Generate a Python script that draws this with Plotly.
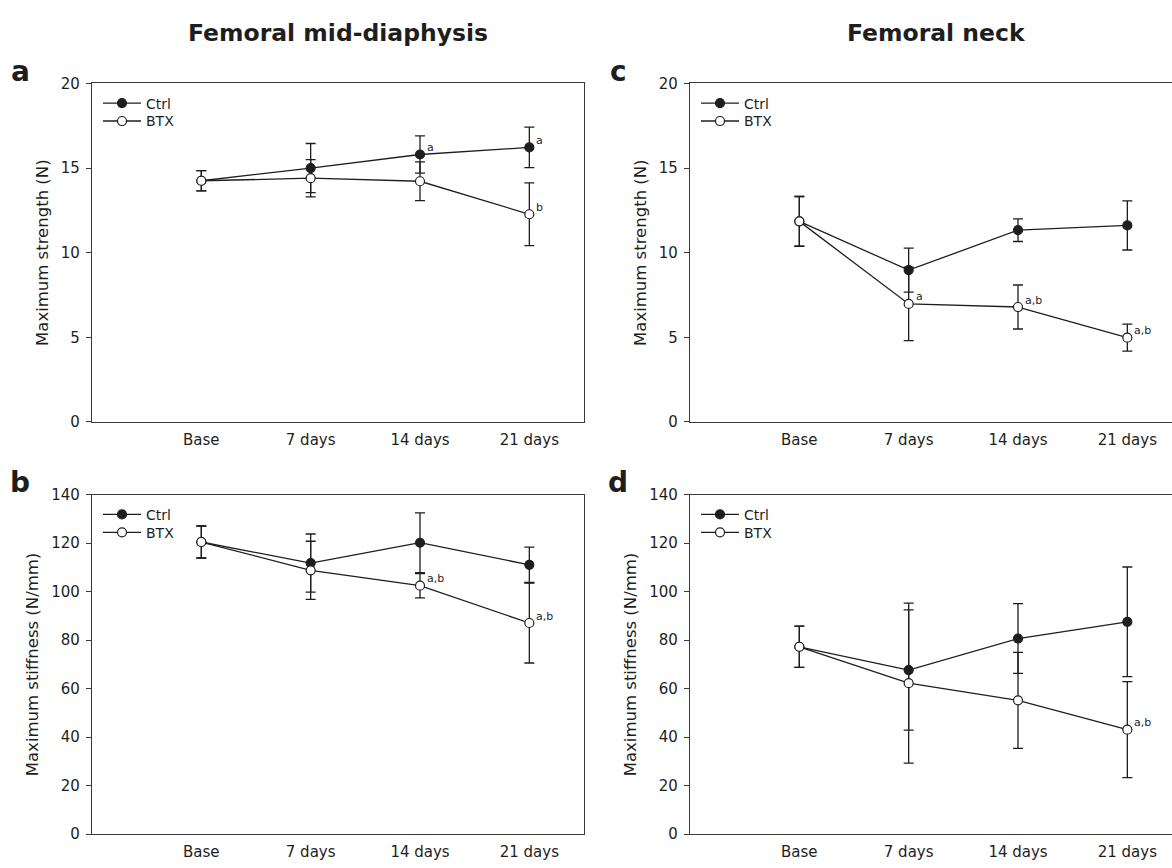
import plotly.graph_objects as go

W, H = 1172, 868
FONT = "DejaVu Sans"
INK = "#1e1e1e"
AX = "#3a3a3a"

categories = ["Base", "7 days", "14 days", "21 days"]
xpos = [0, 1, 2, 3]
series_names = ["Ctrl", "BTX"]

# Panel a: Femoral mid-diaphysis, maximum strength (N)
a_ctrl = [14.25, 15.0, 15.8, 16.22]
a_ctrl_err = [0.6, 1.45, 1.1, 1.2]
a_btx = [14.25, 14.4, 14.22, 12.27]
a_btx_err = [0.6, 1.1, 1.15, 1.85]
a_ctrl_sig = ["", "", "a", "a"]
a_btx_sig = ["", "", "", "b"]

# Panel b: Femoral mid-diaphysis, maximum stiffness (N/mm)
b_ctrl = [120.5, 111.8, 120.2, 111.1]
b_ctrl_err = [6.6, 12.0, 12.3, 7.3]
b_btx = [120.5, 108.8, 102.5, 87.1]
b_btx_err = [6.6, 12.0, 5.0, 16.5]
b_ctrl_sig = ["", "", "", ""]
b_btx_sig = ["", "", "a,b", "a,b"]

# Panel c: Femoral neck, maximum strength (N)
c_ctrl = [11.85, 8.97, 11.33, 11.61]
c_ctrl_err = [1.47, 1.3, 0.67, 1.45]
c_btx = [11.85, 6.97, 6.79, 4.98]
c_btx_err = [1.47, 2.17, 1.3, 0.8]
c_ctrl_sig = ["", "", "", ""]
c_btx_sig = ["", "a", "a,b", "a,b"]

# Panel d: Femoral neck, maximum stiffness (N/mm)
d_ctrl = [77.3, 67.7, 80.7, 87.6]
d_ctrl_err = [8.5, 24.8, 14.4, 22.6]
d_btx = [77.3, 62.3, 55.2, 43.1]
d_btx_err = [8.5, 33.0, 19.8, 19.8]
d_ctrl_sig = ["", "", "", ""]
d_btx_sig = ["", "", "", "a,b"]

strength_ticks = [0, 5, 10, 15, 20]
stiffness_ticks = [0, 20, 40, 60, 80, 100, 120, 140]

col_titles = ["Femoral mid-diaphysis", "Femoral neck"]

px_per_unit = 492 / 4.5
left_px = {"L": 92, "R": 690}
right_px = {"L": 584, "R": W}
row_px = {"top": (76, 421.7), "bot": (496, 842.7)}

panels = [
    dict(letter="a", n="", col="L", row="top", ctrl=a_ctrl, ce=a_ctrl_err, btx=a_btx, be=a_btx_err,
         cs=a_ctrl_sig, bs=a_btx_sig, yr=[0, 20], tv=strength_ticks, yt="Maximum strength (N)"),
    dict(letter="b", n="3", col="L", row="bot", ctrl=b_ctrl, ce=b_ctrl_err, btx=b_btx, be=b_btx_err,
         cs=b_ctrl_sig, bs=b_btx_sig, yr=[0, 140], tv=stiffness_ticks, yt="Maximum stiffness (N/mm)"),
    dict(letter="c", n="2", col="R", row="top", ctrl=c_ctrl, ce=c_ctrl_err, btx=c_btx, be=c_btx_err,
         cs=c_ctrl_sig, bs=c_btx_sig, yr=[0, 20], tv=strength_ticks, yt="Maximum strength (N)"),
    dict(letter="d", n="4", col="R", row="bot", ctrl=d_ctrl, ce=d_ctrl_err, btx=d_btx, be=d_btx_err,
         cs=d_ctrl_sig, bs=d_btx_sig, yr=[0, 140], tv=stiffness_ticks, yt="Maximum stiffness (N/mm)"),
]

fig = go.Figure()
annotations = []
leg_count = 0

for p in panels:
    n = p["n"]
    xref, yref = "x" + n, "y" + n
    x0 = left_px[p["col"]]
    x1 = right_px[p["col"]]
    ytop, ybot = row_px[p["row"]]
    series = [(p["ctrl"], p["ce"], True), (p["btx"], p["be"], False)]
    for j, (name, (vals, errs, filled)) in enumerate(zip(series_names, series)):
        leg_count += 1
        leg_id = "legend" if leg_count == 1 else f"legend{leg_count}"
        fig.add_trace(go.Scatter(
            x=xpos, y=vals, name=name, mode="lines+markers",
            xaxis=xref, yaxis=yref, legend=leg_id,
            line=dict(color=INK, width=1.3),
            marker=dict(symbol="circle", size=9, color=INK if filled else "white",
                        line=dict(color=INK, width=1.2)),
            error_y=dict(type="data", array=errs, visible=True, color=INK, thickness=1.3, width=5),
        ))
        fig.layout[leg_id] = dict(
            x=(x0 + 6) / W, y=1 - (ytop + 20.5 + 18.3 * j) / H, xanchor="left", yanchor="middle",
            bgcolor="rgba(0,0,0,0)", font=dict(family=FONT, size=14, color=INK),
            itemwidth=38, itemclick=False, itemdoubleclick=False)
    for vals, sigs in [(p["ctrl"], p["cs"]), (p["btx"], p["bs"])]:
        for xi, v, s in zip(xpos, vals, sigs):
            if s:
                annotations.append(dict(x=xi, y=v, xref=xref, yref=yref, text=s, showarrow=False,
                                        xanchor="left", yanchor="middle", xshift=5, yshift=7,
                                        font=dict(family=FONT, size=11, color=INK)))
    xrange = [-1, -1 + (x1 - x0) / px_per_unit]
    ax_common = dict(showline=True, linecolor=AX, linewidth=1.2, showgrid=False, zeroline=False)
    fig.layout["xaxis" + n] = dict(
        domain=[x0 / W, x1 / W], anchor=yref, range=xrange, tickvals=xpos, ticktext=categories,
        ticks="", mirror=True, tickfont=dict(family=FONT, size=15, color=INK), ticklabelstandoff=4,
        fixedrange=True, **ax_common)
    fig.layout["yaxis" + n] = dict(
        domain=[1 - ybot / H, 1 - ytop / H], anchor=xref, range=p["yr"], tickvals=p["tv"],
        ticks="outside", ticklen=5, tickwidth=1.2, tickcolor=AX, mirror=(p["col"] == "L"),
        tickfont=dict(family=FONT, size=15, color=INK), ticklabelstandoff=3,
        title=dict(text=p["yt"], font=dict(family=FONT, size=16.5, color=INK), standoff=8),
        fixedrange=True, **ax_common)
    # panel letter
    annotations.append(dict(x=(x0 - 72) / W, y=1 - (ytop - 12) / H, xref="paper", yref="paper",
                            text=p["letter"], showarrow=False, xanchor="center", yanchor="middle",
                            font=dict(family=FONT, size=28, color=INK, weight="bold")))

for i, t in enumerate(col_titles):
    x0 = [92, 690][i]
    cx = (x0 + 246) / W
    annotations.append(dict(x=cx, y=1 - 25 / H, xref="paper", yref="paper", text=t, showarrow=False,
                            xanchor="center", yanchor="middle",
                            font=dict(family=FONT, size=23.5, color=INK, weight="bold")))

fig.update_layout(
    width=W, height=H, margin=dict(l=0, r=0, t=0, b=0),
    paper_bgcolor="white", plot_bgcolor="white",
    font=dict(family=FONT, color=INK),
    annotations=annotations, showlegend=True,
)

fig.write_html("out.html", config={"displayModeBar": False})
